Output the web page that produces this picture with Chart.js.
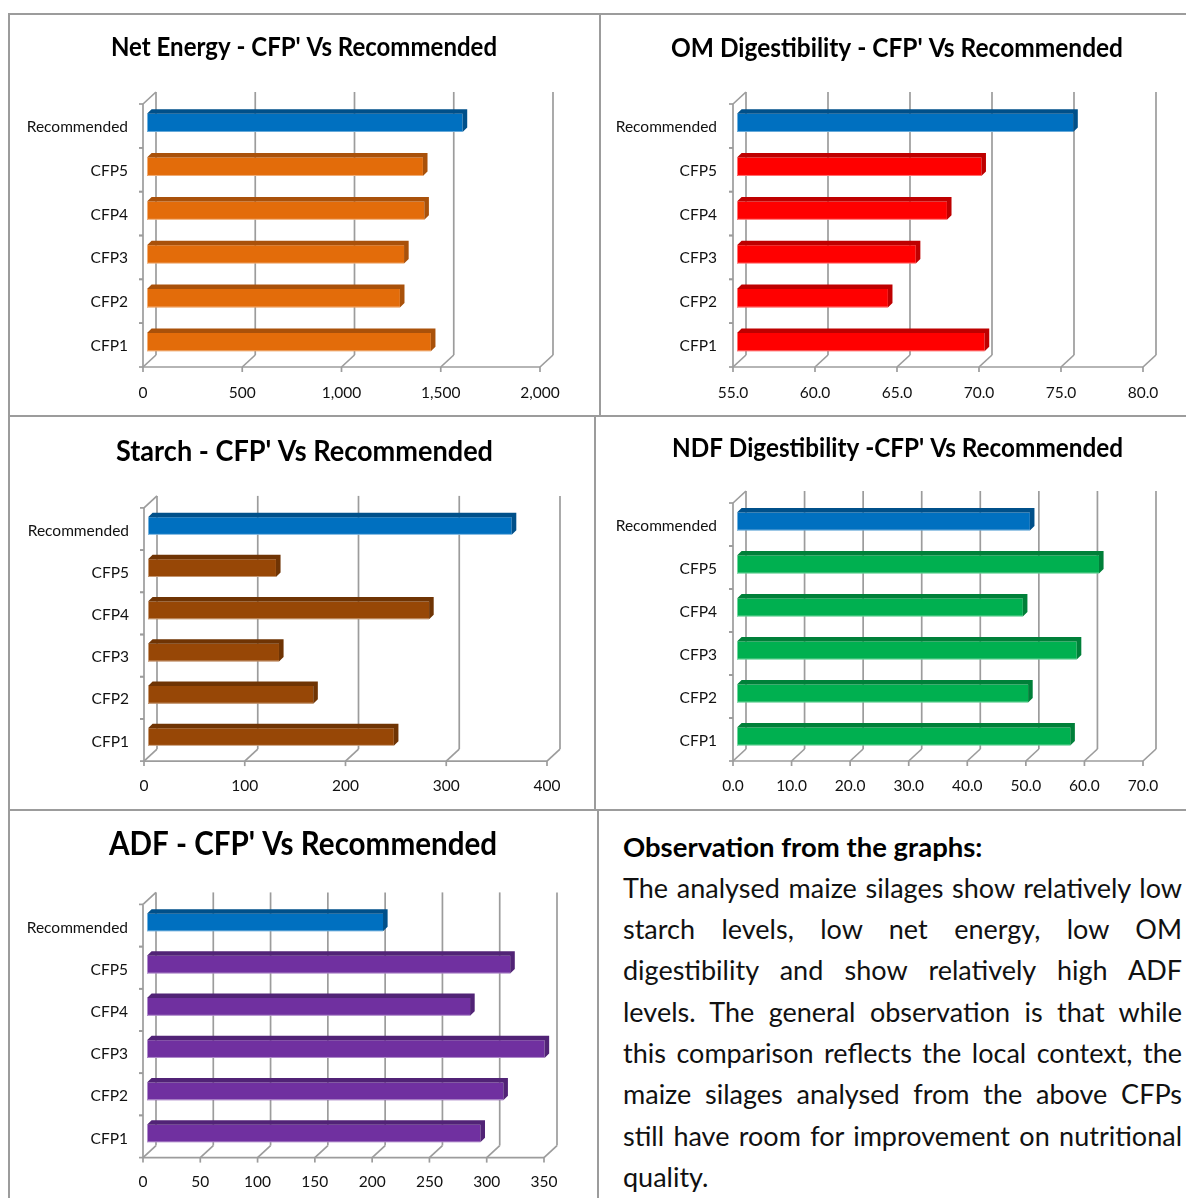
<!DOCTYPE html>
<html><head><meta charset="utf-8">
<script src="https://cdn.jsdelivr.net/npm/chart.js@4"></script>
<style>
html,body{margin:0;padding:0;background:#fff;width:1186px;height:1198px;overflow:hidden}
canvas{position:absolute;display:block}
.ln{position:absolute;background:#9c9c9c}
#note{position:absolute;left:623px;top:825.5px;width:559px;font-family:Lato,sans-serif;font-size:27px;line-height:41.3px;color:#111}
#note div{white-space:nowrap;text-align:justify;text-align-last:justify}
#note .h{font-weight:700;font-size:27.5px;text-align-last:left;color:#000}
#note .e{text-align-last:left}
</style></head><body>
<div class="ln" style="left:9px;top:13px;width:1177px;height:2px"></div>
<div class="ln" style="left:9px;top:415px;width:1177px;height:2px"></div>
<div class="ln" style="left:9px;top:809px;width:1177px;height:2px"></div>
<div class="ln" style="left:8px;top:13px;width:2px;height:1185px"></div>
<div class="ln" style="left:599px;top:13px;width:2px;height:403px"></div>
<div class="ln" style="left:594px;top:416px;width:2px;height:394px"></div>
<div class="ln" style="left:597px;top:810px;width:2px;height:388px"></div>
<canvas id="c1"></canvas><canvas id="c2"></canvas><canvas id="c3"></canvas><canvas id="c4"></canvas><canvas id="c5"></canvas>
<div id="note">
<div class="h">Observation from the graphs:</div>
<div>The analysed maize silages show relatively low</div>
<div>starch levels, low net energy, low OM</div>
<div>digestibility and show relatively high ADF</div>
<div>levels. The general observation is that while</div>
<div>this comparison reflects the local context, the</div>
<div>maize silages analysed from the above CFPs</div>
<div>still have room for improvement on nutritional</div>
<div class="e">quality.</div>
</div>
<script>
const categories = ["Recommended","CFP5","CFP4","CFP3","CFP2","CFP1"];
const netEnergy = [1590,1390,1397,1295,1274,1430];
const omDigestibility = [75.5,69.9,67.8,65.9,64.2,70.1];
const starch = [361,127,279,130,164,244];
const ndfDigestibility = [50,61.8,48.8,58,49.7,56.9];
const adf = [206,317,282,347,311,291];

const titles = ["Net Energy - CFP' Vs Recommended","OM Digestibility - CFP' Vs Recommended","Starch - CFP' Vs Recommended","NDF Digestibility -CFP' Vs Recommended","ADF - CFP' Vs Recommended"];
const BLUE = "#0070C0", BLUE_DARK = "#00508A";

const DX = 9, DY = 9, FX = 4, FY = 3;
const depth = {
  id: "depth3d",
  beforeDatasetsDraw(chart) {
    const {ctx, chartArea: a, scales: {x, y}} = chart;
    const line = (x0, y0, x1, y1) => { ctx.beginPath(); ctx.moveTo(x0, y0); ctx.lineTo(x1, y1); ctx.stroke(); };
    ctx.save();
    ctx.strokeStyle = "#9c9c9c"; ctx.lineWidth = 1.7;
    x.ticks.forEach(t => {
      const p = x.getPixelForValue(t.value);
      line(p + DX, a.top - DY, p + DX, a.bottom - DY);
      line(p - FX, a.bottom + FY, p + DX, a.bottom - DY);
      line(p - FX, a.bottom + FY, p - FX, a.bottom + FY + 5);
    });
    line(a.left - FX, a.top + FY, a.left + DX, a.top - DY);
    line(a.left - FX, a.top + FY, a.left - FX, a.bottom + FY);
    line(a.left - FX, a.bottom + FY, a.right - FX, a.bottom + FY);
    categories.forEach((c, i) => {
      [i - 0.5, i + 0.5].forEach(v => {
        const q = y.getPixelForValue(v) + FY;
        line(a.left - FX - 4, q, a.left - FX, q);
      });
    });
    ctx.restore();
  },
  afterDatasetsDraw(chart) {
    const {ctx, chartArea: a} = chart;
    const dark = chart.data.datasets[0].sideColor;
    chart.getDatasetMeta(0).data.forEach((el, i) => {
      const top = el.y - el.height / 2, bot = el.y + el.height / 2;
      const base = Math.max(el.base, a.left), dx = 4.6, dy = 4.5;
      ctx.fillStyle = dark[i];
      ctx.beginPath();
      ctx.moveTo(base, top); ctx.lineTo(base + dx, top - dy);
      ctx.lineTo(el.x + dx, top - dy); ctx.lineTo(el.x + dx, bot - dy); ctx.lineTo(el.x, bot); ctx.lineTo(el.x, top);
      ctx.closePath(); ctx.fill();
      ctx.strokeStyle = "rgba(255,255,255,0.45)"; ctx.lineWidth = 1;
      ctx.beginPath(); ctx.moveTo(base + 0.5, top); ctx.lineTo(base + 0.5, bot - 0.5); ctx.lineTo(el.x, bot - 0.5); ctx.stroke();
    });
  }
};
const titlePlace = {
  id: "titlePlace",
  afterLayout(chart) {
    const b = chart.titleBlock, o = chart.options.plugins.titlePlace;
    const lh = chart.options.plugins.title.font.size * 1.2;
    const ox = chart.canvas.offsetLeft, oy = chart.canvas.offsetTop;
    b.left = o.x0 - ox; b.right = o.x1 - ox; b.width = o.x1 - o.x0;
    b.top = o.cy - oy - lh / 2; b.bottom = b.top + lh;
  }
};

function make(id, spec) {
  const cv = document.getElementById(id);
  cv.width = spec.box[2]; cv.height = spec.box[3];
  cv.style.left = spec.box[0] + "px"; cv.style.top = spec.box[1] + "px";
  const L = spec.area[0] - spec.box[0], T = spec.area[1] - spec.box[1];
  const R = spec.box[0] + spec.box[2] - spec.area[2], B = spec.box[1] + spec.box[3] - spec.area[3];
  new Chart(cv, {
    type: "bar",
    data: {labels: categories, datasets: [{
      data: spec.values,
      backgroundColor: categories.map((c, i) => i === 0 ? BLUE : spec.color),
      sideColor: categories.map((c, i) => i === 0 ? BLUE_DARK : spec.dark),
      borderWidth: 0, barPercentage: 0.42, categoryPercentage: 1
    }]},
    options: {
      indexAxis: "y", responsive: false, animation: false,
      layout: {padding: {top: 0, left: 0, right: R, bottom: 0}},
      scales: {
        x: {
          min: spec.min, max: spec.max, position: "bottom",
          afterFit(s) { s.height = B; },
          grid: {display: false}, border: {display: false},
          ticks: {stepSize: spec.step, padding: spec.xpad, labelOffset: -4, maxRotation: 0, color: "#111",
            font: {family: "Lato", size: spec.fs},
            callback(v) { return spec.dec ? v.toFixed(spec.dec) : v.toLocaleString("en-US"); }}
        },
        y: {
          afterFit(s) { s.width = L; },
          grid: {display: false}, border: {display: false},
          ticks: {padding: spec.ypad, labelOffset: spec.yoff, color: "#111", font: {family: "Lato", size: spec.fs}}
        }
      },
      plugins: {
        legend: {display: false}, tooltip: {enabled: false},
        title: {display: true, text: spec.title, color: "#000", padding: {top: 0, bottom: T - spec.ts * 1.2},
          font: {family: "Lato", weight: "bold", size: spec.ts, lineHeight: 1.2}},
        titlePlace: {x0: spec.tx[0], x1: spec.tx[1], cy: spec.tx[2]}
      }
    },
    plugins: [depth, titlePlace]
  });
}
make("c1", {box:[10,15,589,400], area:[147,101,544,364], values:netEnergy, title:titles[0], color:"#E36C0A", dark:"#A9510A", min:0, max:2000, step:500, dec:0, fs:15.5, ts:27, tx:[111,497,47], xpad:12, ypad:11, yoff:4});
make("c2", {box:[601,15,585,400], area:[737,101,1147,364], values:omDigestibility, title:titles[1], color:"#FF0000", dark:"#BE0000", min:55, max:80, step:5, dec:1, fs:15.5, ts:27, tx:[671,1123,48], xpad:12, ypad:12, yoff:4});
make("c3", {box:[10,417,584,392], area:[148,504.9,551,758.1], values:starch, title:titles[2], color:"#974706", dark:"#6F3404", min:0, max:400, step:100, dec:0, fs:15.5, ts:29, tx:[116,493,452], xpad:10.5, ypad:11, yoff:4.5});
make("c4", {box:[596,417,590,392], area:[737,500,1147,758], values:ndfDigestibility, title:titles[3], color:"#00B050", dark:"#008039", min:0, max:70, step:10, dec:1, fs:15.5, ts:27, tx:[672,1123,448], xpad:10.5, ypad:12, yoff:4.5});
make("c5", {box:[10,811,587,387], area:[147,901.4,548,1154.6], values:adf, title:titles[4], color:"#7030A0", dark:"#512376", min:0, max:350, step:50, dec:0, fs:15.5, ts:32, tx:[109,497,845], xpad:10, ypad:11, yoff:5});
</script>
</body></html>
